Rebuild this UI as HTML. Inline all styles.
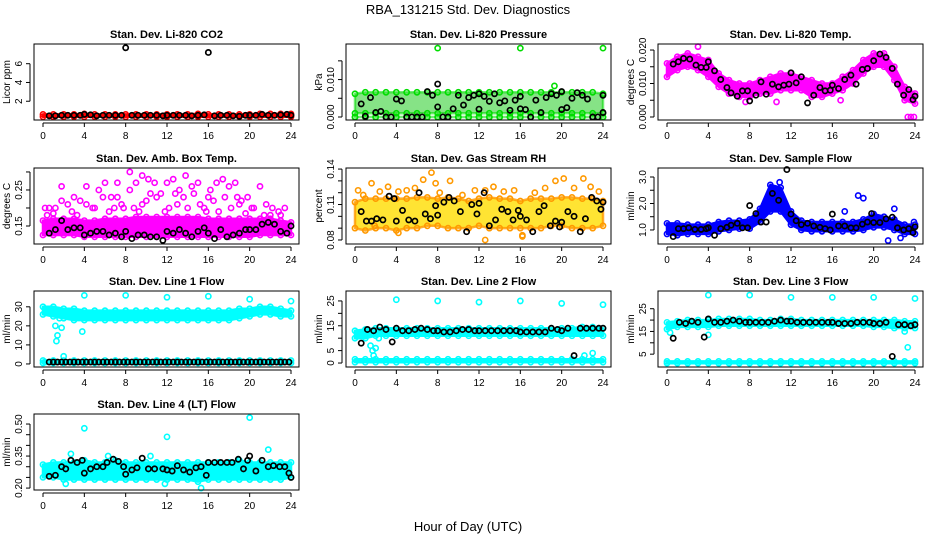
<!DOCTYPE html>
<html><head><meta charset="utf-8">
<style>
html,body{margin:0;padding:0;background:#fff;}
svg{display:block;font-family:"Liberation Sans",Arial,sans-serif;}
</style></head>
<body>
<svg id="chart" width="936" height="540" viewBox="0 0 936 540">
<text x="468" y="14" text-anchor="middle" font-size="13">RBA_131215  Std. Dev. Diagnostics</text>
<text x="468" y="531" text-anchor="middle" font-size="13">Hour of Day (UTC)</text>
</svg>
<script>
const hours = [0,1,2,3,4,5,6,7,8,9,10,11,12,13,14,15,16,17,18,19,20,21,22,23,24];
const xTicks = [0,4,8,12,16,20,24];

// Panel 1: CO2
const co2Lo = [0.35,0.35,0.35,0.35,0.35,0.35,0.35,0.35,0.35,0.35,0.35,0.35,0.35,0.35,0.35,0.35,0.35,0.35,0.35,0.35,0.35,0.35,0.35,0.35,0.35];
const co2Hi = [0.6,0.6,0.6,0.6,0.65,0.6,0.6,0.6,0.6,0.6,0.6,0.6,0.6,0.6,0.6,0.65,0.6,0.6,0.6,0.6,0.6,0.65,0.65,0.65,0.65];
const co2BlackX = [0.6,1.2,1.8,2.4,3,3.6,4,4.6,5.2,5.8,6.4,7,7.6,8,8.6,9.2,9.8,10.4,11,11.6,12,12.6,13.2,13.8,14.4,15,15.6,16,16.6,17.2,17.8,18.4,19,19.6,20,20.6,21.2,21.8,22.4,23,23.6,24];
const co2BlackY = [0.45,0.45,0.5,0.5,0.5,0.5,0.6,0.55,0.45,0.5,0.5,0.5,0.5,7.7,0.5,0.5,0.5,0.5,0.5,0.45,0.5,0.5,0.5,0.5,0.45,0.5,0.55,7.2,0.45,0.5,0.5,0.45,0.4,0.5,0.5,0.5,0.6,0.5,0.5,0.55,0.6,0.5];
const co2OutX = [];
const co2OutY = [];

// Panel 2: Pressure
const prLo = [0.001,0.001,0.001,0.001,0.001,0.001,0.001,0.001,0.001,0.001,0.001,0.001,0.001,0.001,0.001,0.001,0.001,0.001,0.001,0.001,0.001,0.001,0.001,0.001,0.001];
const prHi = [0.0062,0.0066,0.0066,0.0066,0.0066,0.0066,0.0066,0.0066,0.0066,0.0066,0.0066,0.0066,0.0066,0.0066,0.0066,0.0066,0.0066,0.0066,0.0066,0.0066,0.0066,0.0066,0.0066,0.0066,0.0062];
const prZeroLo = [0,0,0,0,0,0,0,0,0,0,0,0,0,0,0,0,0,0,0,0,0,0,0,0,0];
const prZeroHi = [0,0,0,0,0,0,0,0,0,0,0,0,0,0,0,0,0,0,0,0,0,0,0,0,0];
const prBlackX = [0.6,1,1.5,2,2.5,3,3.5,4,4.5,5,5.5,6,6.5,7,7.5,8,8,8.5,9,9.5,10,10.5,11,11.5,12,12,12.5,13,13.5,14,14.5,15,15.5,16,16,16.5,17,17.5,18,18.5,19,19.5,20,20,20.5,21,21.5,22,22.5,23,23.5,24,24];
const prBlackY = [0.0035,0.0002,0.0052,0.0012,0.0015,0,0,0.0048,0.0043,0,0,0,0,0.0068,0.0058,0.0088,0.0027,0,0,0.0022,0.0058,0.0032,0.0052,0.0058,0.0062,0.0021,0.0055,0.0042,0.0062,0.0038,0.0043,0.0018,0.0045,0.0055,0.0022,0.002,0,0.0045,0.0012,0.0052,0.0062,0.0058,0.0068,0.002,0.0025,0.005,0.0065,0.0058,0.0048,0,0,0.0058,0.0012];
const prOutX = [8,16,24,19.3];
const prOutY = [0.0184,0.0184,0.0184,0.0083];

// Panel 3: Li-820 Temp
const tpLo = [0.012,0.014,0.015,0.014,0.012,0.009,0.007,0.006,0.006,0.007,0.007,0.008,0.008,0.008,0.006,0.006,0.007,0.008,0.010,0.013,0.015,0.015,0.011,0.005,0.004];
const tpHi = [0.016,0.018,0.019,0.018,0.017,0.013,0.011,0.010,0.010,0.011,0.012,0.013,0.013,0.012,0.011,0.010,0.010,0.012,0.014,0.017,0.019,0.019,0.015,0.009,0.007];
const tpBlackX = [0.6,1.1,1.6,2.2,2.8,3.3,3.8,4,4.6,5.2,5.8,6.2,6.8,7.3,7.8,8,8.6,9.1,9.6,10.2,10.8,11.3,11.8,12,12.5,13,13.6,14.2,14.8,15.3,15.8,16,16.6,17.2,17.8,18.3,18.9,19.4,20,20.6,21.2,21.8,22.3,22.9,23.4,23.8,24];
const tpBlackY = [0.0158,0.0165,0.0175,0.0173,0.0155,0.0148,0.0148,0.0165,0.0138,0.0112,0.0088,0.0072,0.0062,0.0078,0.0078,0.0048,0.0065,0.0105,0.0068,0.0098,0.009,0.0095,0.0098,0.0132,0.0102,0.012,0.0042,0.0065,0.0088,0.0078,0.008,0.0095,0.0085,0.0112,0.0125,0.0098,0.0142,0.0145,0.0168,0.0188,0.0178,0.0145,0.0098,0.0065,0.0082,0.0052,0.0062];
const tpOutX = [3,23.3,23.6,23.9,10.6,7.6,16.8];
const tpOutY = [0.021,0,0,0,0.0045,0.0045,0.005];

// Panel 4: Amb Box Temp
const abLo = [0.125,0.125,0.125,0.125,0.12,0.12,0.12,0.12,0.12,0.12,0.12,0.12,0.12,0.12,0.12,0.12,0.12,0.12,0.12,0.12,0.12,0.125,0.125,0.125,0.125];
const abHi = [0.165,0.17,0.17,0.17,0.165,0.165,0.17,0.17,0.17,0.175,0.175,0.175,0.175,0.175,0.175,0.175,0.17,0.17,0.17,0.17,0.17,0.17,0.17,0.165,0.16];
const abBlackX = [0.6,1.2,1.8,2.4,3,3.6,4,4.6,5.2,5.8,6.4,7,7.6,8,8.6,9.2,9.8,10.4,11,11.6,12,12.6,13.2,13.8,14.4,15,15.6,16,16.6,17.2,17.8,18.4,19,19.6,20,20.6,21.2,21.8,22.4,23,23.6,24];
const abBlackY = [0.13,0.14,0.165,0.14,0.145,0.145,0.125,0.13,0.135,0.135,0.125,0.13,0.12,0.135,0.115,0.125,0.125,0.12,0.12,0.11,0.135,0.13,0.14,0.13,0.12,0.135,0.145,0.13,0.115,0.14,0.12,0.125,0.13,0.14,0.14,0.14,0.155,0.16,0.155,0.135,0.13,0.15];
const abOutX = [0.2,0.6,1.2,1.8,2.4,3,3.6,4.2,4.8,5.4,6,6.6,7.2,7.8,8.4,9,9.6,10.2,10.8,11.4,12,12.6,13.2,13.8,14.4,15,15.6,16.2,16.8,17.4,18,18.6,19.2,19.8,20.4,21,21.6,22.2,22.8,23.4,1.8,4.2,7.2,8.4,9.6,11,12.8,14.6,16.5,18.8,5.8,10.4,13.6,17.6,20.2,1,2.8,5,6.4,7.6,8.8,10,11.8,13,14,15.2,16,17,18.2,19.6,21.4,0.4,3.3,6.9,9.3,12.2,15.8,19,22,23];
const abOutY = [0.2,0.2,0.2,0.26,0.21,0.23,0.22,0.26,0.2,0.25,0.27,0.23,0.27,0.2,0.3,0.27,0.29,0.28,0.27,0.24,0.27,0.28,0.25,0.29,0.26,0.27,0.2,0.25,0.27,0.28,0.26,0.27,0.22,0.23,0.2,0.26,0.21,0.2,0.19,0.2,0.22,0.21,0.23,0.25,0.21,0.23,0.24,0.24,0.22,0.23,0.23,0.24,0.23,0.23,0.2,0.185,0.19,0.2,0.19,0.21,0.2,0.22,0.19,0.21,0.2,0.21,0.23,0.19,0.2,0.185,0.18,0.18,0.18,0.2,0.19,0.2,0.19,0.21,0.18,0.18];

// Panel 5: Gas Stream RH
const rhLo = [0.09,0.088,0.09,0.09,0.088,0.09,0.09,0.092,0.092,0.09,0.09,0.09,0.092,0.09,0.09,0.09,0.09,0.09,0.09,0.092,0.092,0.09,0.09,0.09,0.092];
const rhHi = [0.112,0.115,0.115,0.115,0.115,0.115,0.116,0.116,0.115,0.116,0.115,0.113,0.115,0.116,0.115,0.115,0.113,0.115,0.115,0.115,0.116,0.116,0.115,0.115,0.113];
const rhBlackX = [0.6,1.1,1.6,2.1,2.7,3.3,3.8,4,4.6,5.2,5.8,6.2,6.8,7.3,7.8,8,8.6,9.1,9.6,10.2,10.8,11.3,11.8,12,12.5,13,13.6,14.2,14.8,15.3,15.8,16,16.6,17.2,17.8,18.3,18.9,19.4,19.8,20,20.6,21.2,21.8,22.3,22.9,23.4,23.8,24];
const rhBlackY = [0.104,0.096,0.096,0.098,0.097,0.117,0.115,0.096,0.105,0.097,0.096,0.12,0.102,0.098,0.109,0.101,0.112,0.116,0.113,0.104,0.087,0.11,0.102,0.111,0.12,0.092,0.097,0.106,0.104,0.097,0.105,0.1,0.097,0.087,0.104,0.109,0.092,0.096,0.091,0.095,0.104,0.1,0.087,0.098,0.116,0.113,0.106,0.112];
const rhOutX = [0.3,0.8,1.6,2.4,3.2,4.2,5,5.8,6.6,7.4,8.2,9.2,10.4,11.6,12.6,13.4,14.4,15.4,16.2,17.4,18.4,19.4,20.2,21.2,22.1,22.8,23.6,7.8,12.6,16.2,4.2,1.9];
const rhOutY = [0.122,0.118,0.128,0.121,0.125,0.086,0.122,0.124,0.131,0.137,0.12,0.13,0.118,0.122,0.122,0.125,0.121,0.122,0.083,0.12,0.124,0.13,0.132,0.124,0.132,0.125,0.121,0.128,0.08,0.084,0.121,0.092];

// Panel 6: Sample Flow
const sfLo = [0.85,0.8,0.85,0.85,0.85,0.95,1.0,1.05,1.05,1.3,1.7,1.7,1.2,1.0,0.95,0.95,0.95,0.95,0.95,1.0,1.1,1.1,1.0,0.85,0.85];
const sfHi = [1.25,1.25,1.2,1.2,1.2,1.3,1.35,1.35,1.4,1.8,2.7,2.6,1.7,1.35,1.3,1.3,1.3,1.3,1.3,1.4,1.6,1.5,1.4,1.2,1.2];
const sfBlackX = [0.6,1.1,1.6,2.1,2.7,3.3,3.8,4,4.6,5.2,5.8,6.2,6.8,7.3,7.8,8,8.6,9.1,9.6,10.2,10.8,11.6,12,12.5,13,13.6,14.2,14.8,15.3,15.8,16,16.6,17.2,17.8,18.3,18.9,19.4,19.8,20,20.6,21.2,21.8,22.3,22.9,23.4,23.8,24];
const sfBlackY = [0.75,1.05,1.05,1.08,1.02,1.02,1.05,1.08,0.8,1.05,1.1,1.18,1.25,1.08,1.08,1.92,1.62,1.3,1.3,2.38,2.12,3.28,1.6,1.35,1.2,1.25,1.15,1.1,1.05,1.0,1.6,1.15,1.15,1.08,1.08,1.22,1.3,1.62,1.28,1.28,1.42,1.48,1.08,1.0,1.05,0.9,1.12];
const sfOutX = [18.5,19,21.4,22.6,23.9,17.2,22,10.9];
const sfOutY = [2.3,2.2,0.6,0.7,1.3,1.7,1.8,2.8];

// Panel 7: Line 1 Flow
const l1Lo = [26,25,24,23,23,23,23,23,23,23,23,23,23,23,23,23,23,23,23,24,25,26,26,25,25];
const l1Hi = [30,30,29,29,28,28,28,28,28,28,28,28,28,28,28,28,28,28,28,29,29,30,30,29,28];
const l1ZeroLo = [0.5,0.5,0.5,0.5,0.5,0.5,0.5,0.5,0.5,0.5,0.5,0.5,0.5,0.5,0.5,0.5,0.5,0.5,0.5,0.5,0.5,0.5,0.5,0.5,0.5];
const l1ZeroHi = [1.8,1.8,1.8,1.8,1.8,1.8,1.8,1.8,1.8,1.8,1.8,1.8,1.8,1.8,1.8,1.8,1.8,1.8,1.8,1.8,1.8,1.8,1.8,1.8,1.8];
const l1BlackX = [0.6,1,1.4,1.8,2.2,2.6,3,3.4,3.8,4.2,4.6,5,5.4,5.8,6.2,6.6,7,7.4,7.8,8.2,8.6,9,9.4,9.8,10.2,10.6,11,11.4,11.8,12.2,12.6,13,13.4,13.8,14.2,14.6,15,15.4,15.8,16.2,16.6,17,17.4,17.8,18.2,18.6,19,19.4,19.8,20.2,20.6,21,21.4,21.8,22.2,22.6,23,23.4,23.8];
const l1BlackY = [1,1,1,1,1,1,1,1,1,1,1,1,1,1,1,1,1,1,1,1,1,1,1,1,1,1,1,1,1,1,1,1,1,1,1,1,1,1,1,1,1,1,1,1,1,1,1,1,1,1,1,1,1,1,1,1,1,1,1];
const l1OutX = [4,8,12,16,20,24,1.2,1.3,1.4,1.6,1.8,2,3.8,0.2];
const l1OutY = [36,36,35,35.5,34,33,20,12,15,24,19,4,17,1];

// Panel 8: Line 2 Flow
const l2Lo = [10,10,11,11,11,11,11,11,11,11,11,11,11,11,11,11,11,11,11,11,11,11,11,11,11];
const l2Hi = [13,13.5,14,14,14,14,14,14,14,14,14,14,14,14,14,14,14,14,14,14,14,14,14.5,14.5,14];
const l2ZeroLo = [0.3,0.3,0.3,0.3,0.3,0.3,0.3,0.3,0.3,0.3,0.3,0.3,0.3,0.3,0.3,0.3,0.3,0.3,0.3,0.3,0.3,0.3,0.3,0.3,0.3];
const l2ZeroHi = [1.5,1.5,1.5,1.5,1.5,1.5,1.5,1.5,1.5,1.5,1.5,1.5,1.5,1.5,1.5,1.5,1.5,1.5,1.5,1.5,1.5,1.5,1.5,1.5,1.5];
const l2BlackX = [0.6,1.2,1.8,2.4,3,3.6,4,4.6,5.2,5.8,6.4,7,7.6,8,8.6,9.2,9.8,10.4,11,11.6,12,12.6,13.2,13.8,14.4,15,15.6,16,16.6,17.2,17.8,18.4,19,19.6,20,20.6,21.2,21.8,22.4,23,23.6,24];
const l2BlackY = [8,13.5,13,14.5,13.5,8.5,14,13,13,13.5,14,13.5,13,13,12.5,12.5,13,13.5,13.5,13,13,13,13,13,13,13,13,12.5,12.5,12.5,12.5,12.5,14,13.5,13,14,3,14,14,14,14,14];
const l2OutX = [4,8,12,16,20,24,1.5,1.7,1.8,2,2.3,22.2,23];
const l2OutY = [25.5,25,24.5,25,24,23.5,7,5,3,6,10,3,4];

// Panel 9: Line 3 Flow
const l3Lo = [16,17,17,17,17,17.5,17.5,17.5,17.5,17.5,17.5,17.5,17.5,17.5,17.5,17.5,17.5,17.5,17.5,17.5,17,17,16.5,16.5,16.5];
const l3Hi = [19,19.5,20,20,20,20.5,20.5,20.5,20.5,20,20,20.5,20.5,20,20,20,20,20,20,20,20,20,20,19.5,19.5];
const l3ZeroLo = [1,1,1,1,1,1,1,1,1,1,1,1,1,1,1,1,1,1,1,1,1,1,1,1,1];
const l3ZeroHi = [1.8,1.8,1.8,1.8,1.8,1.8,1.8,1.8,1.8,1.8,1.8,1.8,1.8,1.8,1.8,1.8,1.8,1.8,1.8,1.8,1.8,1.8,1.8,1.8,1.8];
const l3BlackX = [0.6,1.2,1.8,2.4,3,3.6,4,4.6,5.2,5.8,6.4,7,7.6,8,8.6,9.2,9.8,10.4,11,11.6,12,12.6,13.2,13.8,14.4,15,15.6,16,16.6,17.2,17.8,18.4,19,19.6,20,20.6,21.2,21.8,22.4,23,23.6,24];
const l3BlackY = [12,19,18.5,19.5,19,12.5,20.5,19,19,19.5,20,19.5,19,19,19,19,19,19.5,20,19.5,19.5,19,19,19,19,19,19,19,18.5,18.5,18.5,19,19,19,18.5,18.5,19,4,18,18,17.5,18];
const l3OutX = [4,8,12,16,20,24,0.3,4,23,23.3];
const l3OutY = [31,31,30,30,30,29.5,14.5,13.5,15,8];

// Panel 10: Line 4 (LT) Flow
const ltLo = [0.25,0.25,0.24,0.24,0.24,0.24,0.24,0.24,0.24,0.24,0.24,0.24,0.24,0.24,0.24,0.23,0.24,0.24,0.24,0.24,0.24,0.24,0.24,0.24,0.25];
const ltHi = [0.31,0.32,0.32,0.32,0.33,0.32,0.32,0.33,0.32,0.32,0.32,0.32,0.32,0.32,0.32,0.32,0.32,0.32,0.32,0.33,0.32,0.32,0.32,0.32,0.32];
const ltBlackX = [0.6,1.2,1.8,2.2,2.7,3.3,3.8,4,4.6,5.2,5.8,6.2,6.8,7.3,7.8,8,8.6,9.1,9.6,10.2,10.8,11.6,12,12.5,13,13.6,14.2,14.8,15.3,15.8,16,16.6,17.2,17.8,18.3,18.9,19.4,19.8,20,20.6,21.2,21.8,22.3,22.9,23.4,23.8,24];
const ltBlackY = [0.255,0.26,0.3,0.29,0.33,0.32,0.33,0.27,0.29,0.3,0.3,0.32,0.335,0.325,0.3,0.265,0.285,0.295,0.34,0.29,0.29,0.29,0.285,0.28,0.305,0.285,0.275,0.295,0.3,0.26,0.32,0.32,0.32,0.32,0.32,0.335,0.29,0.33,0.35,0.28,0.33,0.3,0.305,0.3,0.3,0.27,0.25];
const ltOutX = [4,12,20,21.8,11.8,15.3,2.2,2.7,6.3,10.4];
const ltOutY = [0.48,0.44,0.53,0.38,0.22,0.2,0.22,0.36,0.35,0.35];

const NS = 'http://www.w3.org/2000/svg';
const svg = document.getElementById('chart');
function mk(tag, attrs, parent){
  const e = document.createElementNS(NS, tag);
  for (const k in attrs) e.setAttribute(k, attrs[k]);
  (parent||svg).appendChild(e);
  return e;
}

const rowTop = [44,168,291,414];
const boxH = 76;

function panel(p){
  const left = p.col*312 + 34, right = p.col*312 + 299;
  const top = rowTop[p.row], bottom = top + boxH;
  const x0 = p.col*312 + 43, x1 = p.col*312 + 291;
  const xs = h => x0 + (x1 - x0) * h / 24;
  const ys = v => bottom - (v - p.ymin) / (p.ymax - p.ymin) * boxH;
  const g = mk('g', {});
  
  
  const t = mk('text', {x:(left+right)/2, y: top-6, 'text-anchor':'middle', 'font-size':11, 'font-weight':'bold'}, g);
  t.textContent = p.title;
  
  
  const plot = mk('g', {}, g);
  
  
  const op = p.op || 1;
  (p.bands||[]).forEach(b => {
    let d = '';
    hours.forEach((h,i) => { d += (i ? 'L' : 'M') + xs(h) + ',' + ys(b.hi[i]); });
    for (let i = hours.length-1; i >= 0; i--) d += 'L' + xs(hours[i]) + ',' + ys(b.lo[i]);
    const band = mk('path', {d: d + 'Z', fill: p.fill, 'fill-opacity': op, stroke: p.color, 'stroke-opacity': op, 'stroke-width': 2.5, 'stroke-linejoin':'round'}, plot);
    
    
    hours.forEach((h,i) => {
      [b.lo[i], b.hi[i]].forEach(v => {
        const c = mk('circle', {cx: xs(h), cy: ys(v), r: 2.6, fill: 'none', stroke: p.color, 'stroke-width': 1.6}, plot);
        
        
      });
    });
  });
  p.outX.forEach((h,i) => {
    const c = mk('circle', {cx: xs(h), cy: ys(p.outY[i]), r: 2.6, fill: 'none', stroke: p.color, 'stroke-width': 1.6}, plot);
    
    
  });
  p.bx.forEach((h,i) => {
    const c = mk('circle', {cx: xs(h), cy: ys(p.by[i]), r: 2.6, fill: 'none', stroke: '#000', 'stroke-width': 1.7}, plot);
    
    
  });
  const box = mk('rect', {x:left, y:top, width:right-left, height:boxH, fill:'none', stroke:'#000', 'stroke-width':1}, g);
  
  
  const xa = mk('g', {}, g);
  
  
  mk('line', {x1:xs(0), x2:xs(24), y1:bottom+3, y2:bottom+3, stroke:'#000'}, xa);
  xTicks.forEach(h => {
    mk('line', {x1:xs(h), x2:xs(h), y1:bottom+3, y2:bottom+7, stroke:'#000'}, xa);
    const tl = mk('text', {x:xs(h), y:bottom+19, 'text-anchor':'middle', 'font-size':10}, xa);
    tl.textContent = h;
  });
  const ya = mk('g', {}, g);
  
  
  const ax = left - 4;
  mk('line', {x1:ax, x2:ax, y1:ys(p.ticks[0]), y2:ys(p.ticks[p.ticks.length-1]), stroke:'#000'}, ya);
  p.ticks.forEach(v => {
    mk('line', {x1:ax-4, x2:ax, y1:ys(v), y2:ys(v), stroke:'#000'}, ya);
  });
  p.labels.forEach((lab,i) => {
    const y = ys(p.labelVals[i]);
    const tl = mk('text', {x:0, y:0, 'text-anchor':'middle', 'font-size':10, transform:`translate(${ax-8},${y}) rotate(-90)`}, ya);
    tl.textContent = lab;
  });
  const yt = mk('text', {x:0, y:0, 'text-anchor':'middle', 'font-size':10, transform:`translate(${left-24},${top+boxH/2}) rotate(-90)`}, g);
  yt.textContent = p.ylab;
  
  
}

const panels = [
 {name:'co2', title:'Stan. Dev. Li-820 CO2', row:0, col:0, ymin:0, ymax:8.1, color:'#ff0000', fill:'#ff0000', ylab:'Licor ppm',
  bands:[{lo:co2Lo, hi:co2Hi}], bx:co2BlackX, by:co2BlackY, outX:co2OutX, outY:co2OutY,
  ticks:[2,4,6], labels:['2','4','6'], labelVals:[2,4,6]},
 {name:'pressure', title:'Stan. Dev. Li-820 Pressure', row:0, col:1, ymin:-0.0008, ymax:0.0195, color:'#00dd00', fill:'#22cc22', op:0.55, ylab:'kPa',
  bands:[{lo:prLo, hi:prHi},{lo:prZeroLo, hi:prZeroHi}], bx:prBlackX, by:prBlackY, outX:prOutX, outY:prOutY,
  ticks:[0,0.005,0.01,0.015], labels:['0.000','0.010'], labelVals:[0,0.01]},
 {name:'li820-temp', title:'Stan. Dev. Li-820 Temp.', row:0, col:2, ymin:-0.0009, ymax:0.0218, color:'#ff00ff', fill:'#ff00ff', ylab:'degrees C',
  bands:[{lo:tpLo, hi:tpHi}], bx:tpBlackX, by:tpBlackY, outX:tpOutX, outY:tpOutY,
  ticks:[0,0.005,0.01,0.015,0.02], labels:['0.000','0.010','0.020'], labelVals:[0,0.01,0.02]},
 {name:'amb-box-temp', title:'Stan. Dev. Amb. Box Temp.', row:1, col:0, ymin:0.10, ymax:0.311, color:'#ff00ff', fill:'#ff00ff', ylab:'degrees C',
  bands:[{lo:abLo, hi:abHi}], bx:abBlackX, by:abBlackY, outX:abOutX, outY:abOutY,
  ticks:[0.15,0.2,0.25,0.3], labels:['0.15','0.25'], labelVals:[0.15,0.25]},
 {name:'gas-rh', title:'Stan. Dev. Gas Stream RH', row:1, col:1, ymin:0.0766, ymax:0.1409, color:'#ff9900', fill:'#ffdd00', op:0.8, ylab:'percent',
  bands:[{lo:rhLo, hi:rhHi}], bx:rhBlackX, by:rhBlackY, outX:rhOutX, outY:rhOutY,
  ticks:[0.08,0.09,0.10,0.11,0.12,0.13,0.14], labels:['0.08','0.11','0.14'], labelVals:[0.08,0.11,0.14]},
 {name:'sample-flow', title:'Stan. Dev. Sample Flow', row:1, col:2, ymin:0.47, ymax:3.34, color:'#0000ff', fill:'#0000ff', ylab:'ml/min',
  bands:[{lo:sfLo, hi:sfHi}], bx:sfBlackX, by:sfBlackY, outX:sfOutX, outY:sfOutY,
  ticks:[1,1.5,2,2.5,3], labels:['1.0','2.0','3.0'], labelVals:[1,2,3]},
 {name:'line1-flow', title:'Stan. Dev. Line 1 Flow', row:2, col:0, ymin:-1.6, ymax:38.3, color:'#00ffff', fill:'#00ffff', ylab:'ml/min',
  bands:[{lo:l1Lo, hi:l1Hi},{lo:l1ZeroLo, hi:l1ZeroHi}], bx:l1BlackX, by:l1BlackY, outX:l1OutX, outY:l1OutY,
  ticks:[0,10,20,30], labels:['0','10','20','30'], labelVals:[0,10,20,30]},
 {name:'line2-flow', title:'Stan. Dev. Line 2 Flow', row:2, col:1, ymin:-1.6, ymax:29, color:'#00ffff', fill:'#00ffff', ylab:'ml/min',
  bands:[{lo:l2Lo, hi:l2Hi},{lo:l2ZeroLo, hi:l2ZeroHi}], bx:l2BlackX, by:l2BlackY, outX:l2OutX, outY:l2OutY,
  ticks:[0,5,10,15,20,25], labels:['0','5','15','25'], labelVals:[0,5,15,25]},
 {name:'line3-flow', title:'Stan. Dev. Line 3 Flow', row:2, col:2, ymin:-0.65, ymax:32.8, color:'#00ffff', fill:'#00ffff', ylab:'ml/min',
  bands:[{lo:l3Lo, hi:l3Hi},{lo:l3ZeroLo, hi:l3ZeroHi}], bx:l3BlackX, by:l3BlackY, outX:l3OutX, outY:l3OutY,
  ticks:[5,10,15,20,25], labels:['5','15','25'], labelVals:[5,15,25]},
 {name:'line4-flow', title:'Stan. Dev. Line 4 (LT) Flow', row:3, col:0, ymin:0.191, ymax:0.547, color:'#00ffff', fill:'#00ffff', ylab:'ml/min',
  bands:[{lo:ltLo, hi:ltHi}], bx:ltBlackX, by:ltBlackY, outX:ltOutX, outY:ltOutY,
  ticks:[0.2,0.25,0.3,0.35,0.4,0.45,0.5], labels:['0.20','0.35','0.50'], labelVals:[0.2,0.35,0.5]}
];
panels.forEach(panel);
</script>
</body></html>
